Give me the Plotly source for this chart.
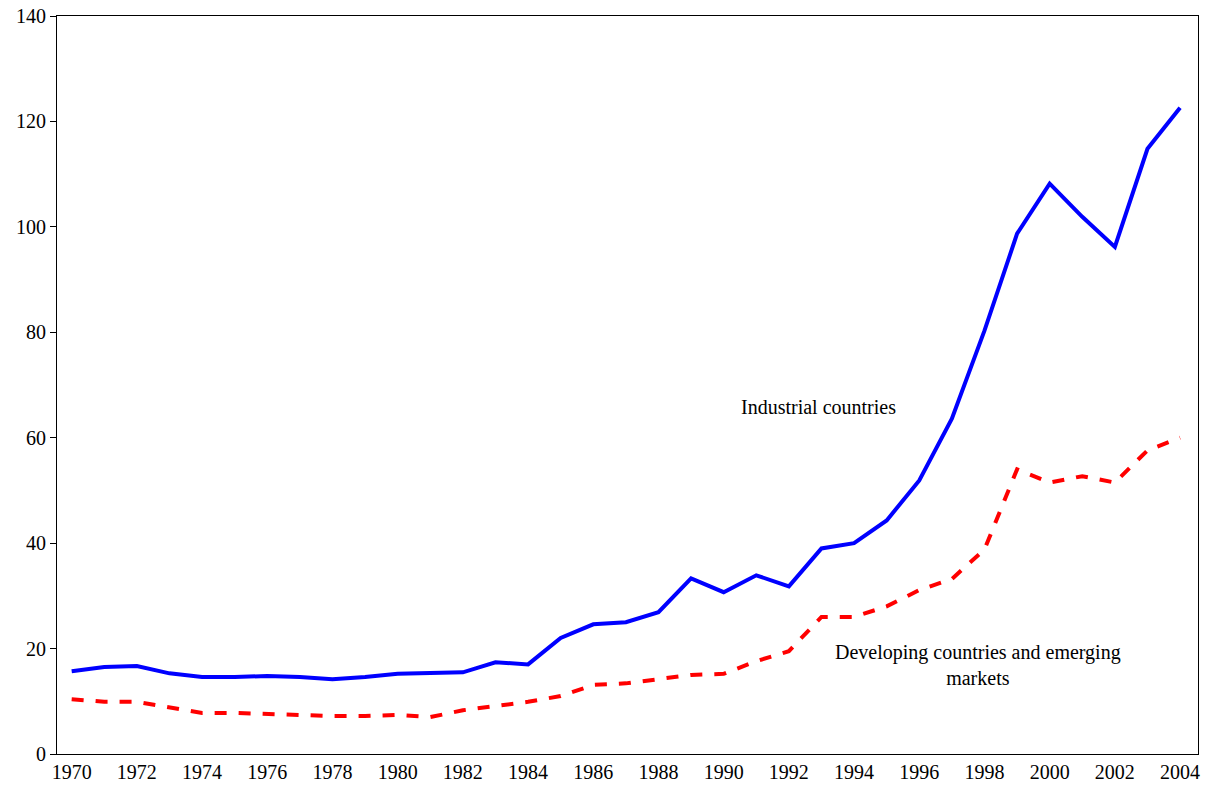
import plotly.graph_objects as go

years = list(range(1970, 2005))
industrial = [15.7, 16.5, 16.7, 15.3, 14.6, 14.6, 14.8, 14.6, 14.2, 14.6,
              15.2, 15.3, 15.5, 17.4, 17.0, 22.0, 24.6, 25.0, 26.9, 33.3,
              30.7, 33.9, 31.8, 39.0, 40.0, 44.3, 51.9, 63.6, 80.3, 98.7,
              108.2, 101.9, 96.2, 114.8, 122.6]
developing = [10.4, 9.9, 9.9, 8.9, 7.8, 7.8, 7.6, 7.4, 7.2, 7.2,
              7.4, 7.0, 8.3, 9.1, 9.9, 11.0, 13.1, 13.4, 14.2, 15.0,
              15.2, 17.6, 19.5, 26.0, 26.0, 28.0, 31.1, 33.2, 38.8, 54.0,
              51.5, 52.7, 51.5, 57.6, 60.0]

fig = go.Figure()
fig.add_trace(go.Scatter(x=years, y=industrial, mode='lines',
                         line=dict(color='#0000ff', width=4), name='Industrial countries'))
fig.add_trace(go.Scatter(x=years, y=developing, mode='lines',
                         line=dict(color='#ff0000', width=4, dash='dash'),
                         name='Developing countries and emerging markets'))

fig.add_annotation(x=1992.9, y=65.9, text='Industrial countries', showarrow=False,
                   font=dict(size=20))
fig.add_annotation(x=1997.8, y=16.8, text='Developing countries and emerging<br>markets',
                   showarrow=False, font=dict(size=20))

fig.update_layout(
    width=1210, height=800,
    margin=dict(l=49, r=20, t=8, b=54, autoexpand=False),
    paper_bgcolor='white', plot_bgcolor='white',
    showlegend=False,
    font=dict(family='Liberation Serif', size=20, color='black'),
    xaxis=dict(range=[1969.55, 2004.55], tickvals=list(range(1970, 2005, 2)),
               showgrid=False, zeroline=False, showline=True, mirror=True,
               linecolor='black', linewidth=1, ticks='', automargin=False,
               ticklabeloverflow='allow'),
    yaxis=dict(range=[0, 140], dtick=20, showgrid=False, zeroline=False,
               showline=True, mirror=True, linecolor='black', linewidth=1,
               ticks='outside', ticklen=6, tickcolor='black', automargin=False,
               ticklabeloverflow='allow'),
)
fig.write_html("out.html")
